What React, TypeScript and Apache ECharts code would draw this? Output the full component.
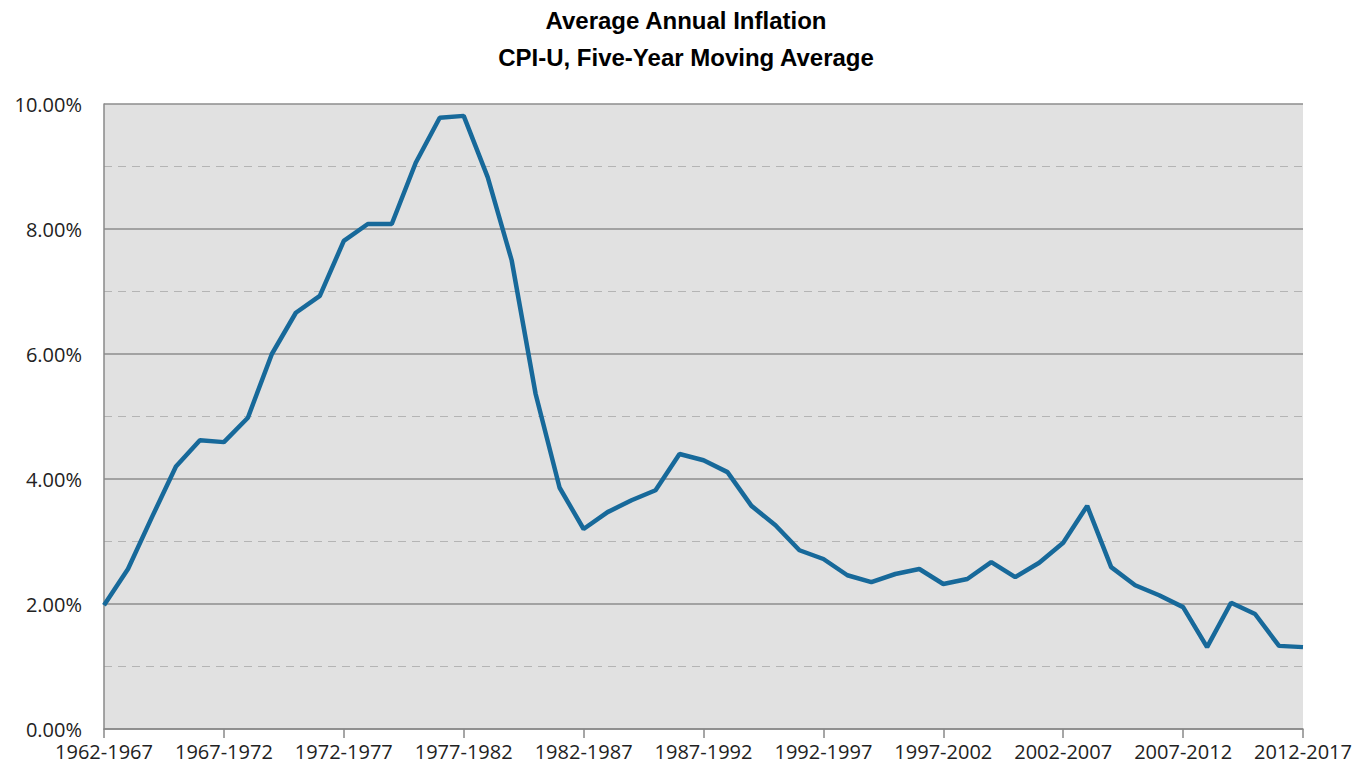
import React, { useEffect, useRef } from "react";
import * as echarts from "echarts";

const startYears: number[] = [];
for (let y = 1962; y <= 2012; y++) startYears.push(y);
const categories = startYears.map((y) => `${y}-${y + 5}`);

const inflation = [
  1.98, 2.56, 3.39, 4.2, 4.62, 4.59, 4.98, 6.0, 6.66, 6.93,
  7.81, 8.08, 8.08, 9.06, 9.78, 9.81, 8.83, 7.5, 5.36, 3.86,
  3.2, 3.47, 3.66, 3.82, 4.4, 4.3, 4.11, 3.57, 3.26, 2.86,
  2.72, 2.46, 2.35, 2.48, 2.56, 2.32, 2.4, 2.67, 2.43, 2.66,
  2.98, 3.57, 2.59, 2.3, 2.14, 1.95, 1.31, 2.02, 1.84, 1.33,
  1.31,
];

const titleLines = ["Average Annual Inflation", "CPI-U, Five-Year Moving Average"];

export default function App() {
  const ref = useRef<HTMLDivElement>(null);
  useEffect(() => {
    if (!ref.current) return;
    const chart = echarts.init(ref.current, undefined, { renderer: "svg" });
    chart.setOption({
      animation: false,
      backgroundColor: "#ffffff",
      title: {
        text: titleLines.join("\n"),
        left: "center",
        top: 1.5,
        padding: 0,
        textStyle: {
          fontFamily: "Liberation Sans, Arial, sans-serif",
          fontWeight: "bold",
          fontSize: 24,
          lineHeight: 37,
          color: "#000",
        },
      },
      grid: {
        left: 104,
        right: 69,
        top: 104,
        bottom: 43,
        show: true,
        backgroundColor: "#e1e1e1",
        borderWidth: 0,
      },
      xAxis: {
        type: "category",
        data: categories,
        boundaryGap: false,
        axisLine: { show: true, lineStyle: { color: "#888", width: 1.5 } },
        axisTick: { show: true, interval: 4, length: 9, lineStyle: { color: "#888", width: 1.5 } },
        axisLabel: {
          interval: 4,
          color: "#222",
          fontFamily: "Open Sans, sans-serif",
          fontSize: 20,
          lineHeight: 20,
          margin: 12,
        },
        splitLine: { show: false },
      },
      yAxis: {
        type: "value",
        min: 0,
        max: 10,
        interval: 2,
        axisLine: { show: true, lineStyle: { color: "#888", width: 1.5 } },
        axisTick: { show: false },
        axisLabel: {
          formatter: (v: number) => v.toFixed(2) + "%",
          color: "#222",
          fontFamily: "Open Sans, sans-serif",
          fontSize: 20,
          lineHeight: 18,
          margin: 22,
        },
        splitLine: { show: true, lineStyle: { color: "#8c8c8c", width: 1.5 } },
        minorTick: { show: false, splitNumber: 2 },
        minorSplitLine: { show: true, lineStyle: { color: "#b4b4b4", type: [8, 6], width: 1 } },
      },
      series: [
        {
          type: "line",
          data: inflation,
          symbol: "none",
          lineStyle: { color: "#17699a", width: 4.5 },
        },
      ],
    });
    return () => chart.dispose();
  }, []);
  return (
    <div
      ref={ref}
      style={{ position: "absolute", left: 0, top: 0, width: 1372, height: 772 }}
    />
  );
}
